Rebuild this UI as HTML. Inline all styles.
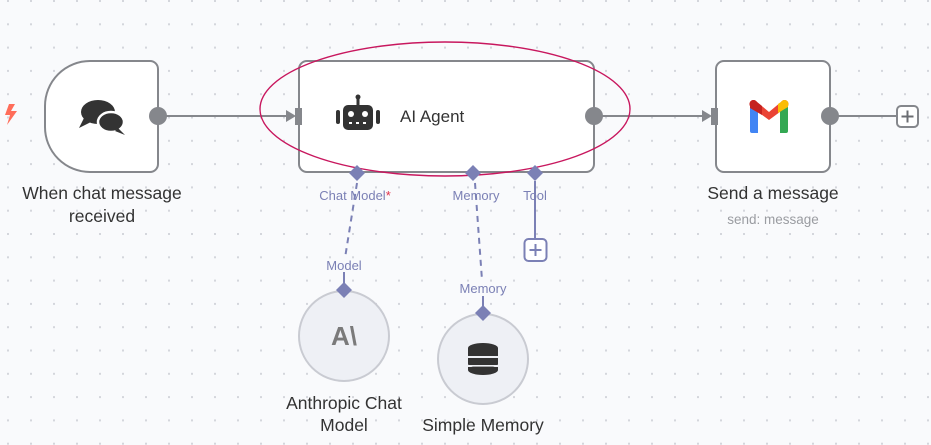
<!DOCTYPE html>
<html><head><meta charset="utf-8"><style>
html,body{margin:0;padding:0;background:#f9fafc;}
svg{display:block;font-family:"Liberation Sans",sans-serif;}
</style></head><body>
<svg width="931" height="445" viewBox="0 0 931 445" xmlns="http://www.w3.org/2000/svg">
<defs>
<pattern id="dots" x="7" y="0" width="23" height="23.3" patternUnits="userSpaceOnUse">
<rect x="0" y="0" width="2" height="2" fill="#d4d6dc"/>
</pattern>
</defs>
<rect width="931" height="445" fill="#f9fafc"/>
<rect width="931" height="445" fill="url(#dots)"/>

<!-- trigger -->
<path d="M9 104 l6 0 l-4 7 l6 0 l-10 14 l3 -10 l-5 0 z" fill="#ff6d5a"/>
<path d="M90 61 H150 a8 8 0 0 1 8 8 V164 a8 8 0 0 1 -8 8 H90 a45 45 0 0 1 -45 -45 V106 a45 45 0 0 1 45 -45 z" fill="#fff" stroke="#85878c" stroke-width="2"/>
<g fill="#333">
<ellipse cx="98" cy="112" rx="17" ry="12"/>
<path d="M84 118 l-5 10 l12 -6 z"/>
<ellipse cx="111" cy="122" rx="13" ry="10" stroke="#fff" stroke-width="2.5"/>
<path d="M118 128 l7 7 l-10 -4 z"/>
</g>
<line x1="158" y1="116" x2="288" y2="116" stroke="#85878c" stroke-width="2"/>
<circle cx="158" cy="116" r="9" fill="#85878c"/>
<path d="M286 110 L296 116 L286 122 z" fill="#85878c"/>
<text x="102" y="199" font-size="17.5" text-anchor="middle" fill="#333">When chat message</text>
<text x="102" y="222" font-size="17.5" text-anchor="middle" fill="#333">received</text>

<!-- agent -->
<rect x="299" y="61" width="295" height="111" rx="8" fill="#fff" stroke="#85878c" stroke-width="2"/>
<rect x="295" y="108" width="7" height="17" fill="#85878c"/>
<g fill="#333">
<rect x="343" y="105" width="30" height="25" rx="5"/>
<rect x="356.5" y="97" width="3" height="9"/>
<circle cx="358" cy="97" r="2.5"/>
<rect x="336" y="110" width="4" height="14" rx="2"/>
<rect x="376" y="110" width="4" height="14" rx="2"/>
<circle cx="351" cy="114" r="3" fill="#fff"/>
<circle cx="365" cy="114" r="3" fill="#fff"/>
<rect x="349" y="122" width="3" height="2" fill="#fff"/><rect x="356" y="122" width="3" height="2" fill="#fff"/><rect x="363" y="122" width="3" height="2" fill="#fff"/>
</g>
<text x="400" y="122" font-size="17" fill="#333">AI Agent</text>
<line x1="594" y1="116" x2="708" y2="116" stroke="#85878c" stroke-width="2"/>
<circle cx="594" cy="116" r="9" fill="#85878c"/>
<path d="M702 110 L712 116 L702 122 z" fill="#85878c"/>

<!-- gmail -->
<rect x="716" y="61" width="114" height="111" rx="8" fill="#fff" stroke="#85878c" stroke-width="2"/>
<rect x="711" y="108" width="7" height="17" fill="#85878c"/>
<g>
<path d="M750 106 v25 a2 2 0 0 0 2 2 h6 v-22 z" fill="#4285f4"/>
<path d="M788 106 v25 a2 2 0 0 1 -2 2 h-6 v-22 z" fill="#34a853"/>
<path d="M750 106 a4 4 0 0 1 7 -4 l12 10 l12 -10 a4 4 0 0 1 7 4 l-19 14 z" fill="#ea4335"/>
<path d="M750 106 a4 4 0 0 1 7 -4 l5 4 v9 l-12 -7 z" fill="#c5221f"/>
<path d="M788 106 a4 4 0 0 0 -7 -4 l-3 2 v9 l10 -6 z" fill="#fbbc04"/>
</g>
<line x1="830" y1="116" x2="897" y2="116" stroke="#85878c" stroke-width="2"/>
<circle cx="830" cy="116" r="9" fill="#85878c"/>
<rect x="897" y="106" width="21" height="21" rx="4" fill="#fff" stroke="#85878c" stroke-width="2"/>
<path d="M901.5 116.5 h12 M907.5 110.5 v12" stroke="#6b6d72" stroke-width="2"/>
<text x="773" y="199" font-size="17.5" text-anchor="middle" fill="#333">Send a message</text>
<text x="773" y="224" font-size="13.5" text-anchor="middle" fill="#9a9ca1">send: message</text>

<!-- ellipse -->
<ellipse cx="445" cy="109" rx="185" ry="67" fill="none" stroke="#c8175e" stroke-width="1.4"/>

<!-- sub nodes -->
<circle cx="344" cy="336" r="45" fill="#eef0f5" stroke="#c9cbd2" stroke-width="2"/>
<text x="344" y="345" font-size="26" font-weight="bold" text-anchor="middle" fill="#7a7a7a">A\</text>
<circle cx="483" cy="359" r="45" fill="#eef0f5" stroke="#c9cbd2" stroke-width="2"/>
<g fill="#333">
<ellipse cx="483" cy="348" rx="15" ry="5"/>
<rect x="468" y="348" width="30" height="8"/>
<path d="M468 358 h30 v6 a15 4 0 0 1 -30 0 z"/>
</g>
<rect x="468" y="356" width="30" height="1.6" fill="#eef0f5"/>
<rect x="468" y="365" width="30" height="1.6" fill="#eef0f5"/>
<path d="M468 367 h30 v3 a15 5 0 0 1 -30 0 z" fill="#333"/>

<!-- sub connectors -->
<path d="M357 183 L345 258" stroke="#7b80b5" stroke-width="2" stroke-dasharray="6,5" fill="none"/>
<path d="M475 183 L482 280" stroke="#7b80b5" stroke-width="2" stroke-dasharray="6,5" fill="none"/>
<line x1="344" y1="272" x2="344" y2="284" stroke="#7b80b5" stroke-width="2"/>
<line x1="483" y1="296" x2="483" y2="307" stroke="#7b80b5" stroke-width="2"/>
<line x1="535" y1="181" x2="535" y2="240" stroke="#7b80b5" stroke-width="2"/>
<g fill="#7b80b5" stroke="none">
<path d="M357 165 l8 8 l-8 8 l-8 -8 z"/>
<path d="M473 165 l8 8 l-8 8 l-8 -8 z"/>
<path d="M535 165 l8 8 l-8 8 l-8 -8 z"/>
<path d="M344 282 l8 8 l-8 8 l-8 -8 z"/>
<path d="M483 305 l8 8 l-8 8 l-8 -8 z"/>
</g>
<rect x="524.5" y="239" width="22" height="22" rx="4" fill="#fff" stroke="#7b80b5" stroke-width="2"/>
<path d="M529.5 250 h12 M535.5 244 v12" stroke="#7b80b5" stroke-width="2"/>
<g font-size="13" fill="#7b80b5" text-anchor="middle">
<text x="355" y="200">Chat Model<tspan fill="#e0304a">*</tspan></text>
<text x="476" y="200">Memory</text>
<text x="535" y="200">Tool</text>
<text x="344" y="270">Model</text>
<text x="483" y="293">Memory</text>
</g>

<text x="344" y="409" font-size="17.5" text-anchor="middle" fill="#333">Anthropic Chat</text>
<text x="344" y="431" font-size="17.5" text-anchor="middle" fill="#333">Model</text>
<text x="483" y="431" font-size="17.5" text-anchor="middle" fill="#333">Simple Memory</text>
</svg>
</body></html>
